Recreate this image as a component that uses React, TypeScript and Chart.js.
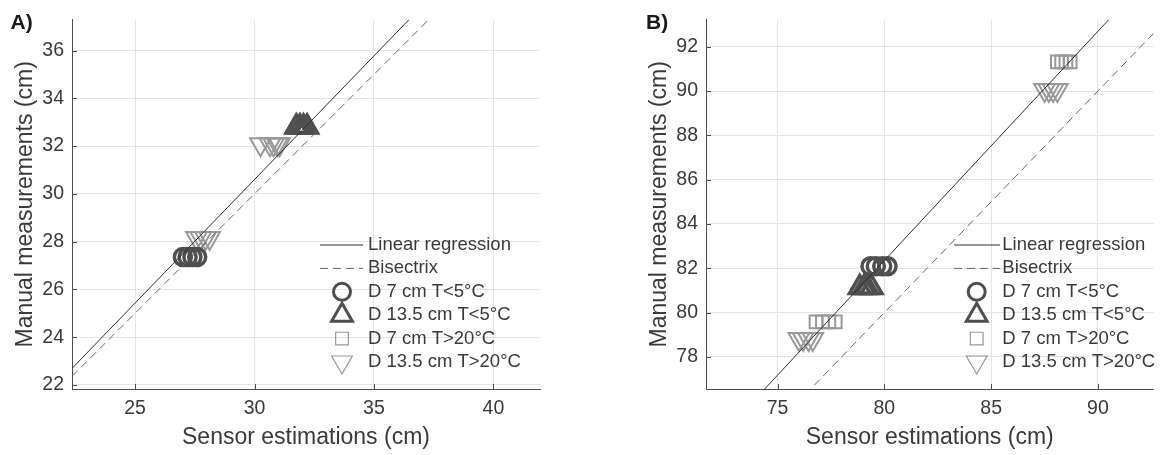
import React, { useEffect, useRef } from "react";
import { Chart, registerables } from "chart.js";
import { drawPoint } from "chart.js/helpers";

Chart.register(...registerables);

// ---------------- data ----------------
const SERIES_LABELS = [
  "Linear regression",
  "Bisectrix",
  "D 7 cm T<5°C",
  "D 13.5 cm T<5°C",
  "D 7 cm T>20°C",
  "D 13.5 cm T>20°C",
];
const X_TITLE = "Sensor estimations (cm)";
const Y_TITLE = "Manual measurements (cm)";

// fitted regression line y = a*x + b (shared by both panels)
const REG_SLOPE = 1.035;
const REG_INTERCEPT = -0.45;

// Panel A
const A_X_RANGE = [22.36, 41.95];
const A_Y_RANGE = [21.83, 37.29];
const A_X_TICKS = [25, 30, 35, 40];
const A_Y_TICKS = [22, 24, 26, 28, 30, 32, 34, 36];
const A_D7_COLD_X = [27.0, 27.2, 27.4, 27.6];
const A_D7_COLD_Y = [27.36, 27.36, 27.36, 27.36];
const A_D135_COLD_X = [31.75, 31.9, 32.05, 32.2];
const A_D135_COLD_Y = [32.8, 32.8, 32.8, 32.8];
const A_D7_WARM_X: number[] = [];
const A_D7_WARM_Y: number[] = [];
const A_D135_WARM_X = [27.57, 27.75, 27.95, 28.12, 30.25, 30.65, 30.8, 30.95, 31.05];
const A_D135_WARM_Y = [28.15, 28.15, 28.15, 28.15, 32.08, 32.08, 32.08, 32.08, 32.08];

// Panel B
const B_X_RANGE = [71.65, 92.6];
const B_Y_RANGE = [76.55, 93.22];
const B_X_TICKS = [75, 80, 85, 90];
const B_Y_TICKS = [78, 80, 82, 84, 86, 88, 90, 92];
const B_D7_COLD_X = [79.35, 79.6, 79.9, 80.15];
const B_D7_COLD_Y = [82.09, 82.09, 82.09, 82.09];
const B_D135_COLD_X = [78.85, 79.05, 79.2, 79.4];
const B_D135_COLD_Y = [81.13, 81.13, 81.13, 81.13];
const B_D7_WARM_X = [76.8, 77.1, 77.4, 77.7, 88.1, 88.3, 88.5, 88.7];
const B_D7_WARM_Y = [79.58, 79.58, 79.58, 79.58, 91.32, 91.32, 91.32, 91.32];
const B_D135_WARM_X = [76.0, 76.2, 76.45, 76.65, 87.5, 87.7, 87.9, 88.1];
const B_D135_WARM_Y = [78.81, 78.81, 78.81, 78.81, 90.05, 90.05, 90.05, 90.05];

// ---------------- styles ----------------
const FONT = '"Liberation Sans", Arial, Helvetica, sans-serif';
const TEXT = "#3a3a3a";
const AXIS = "#4d4d4d";
const GRID = "#e4e4e4";
const DARK = "#4f4f4f";
const LIGHT = "#999999";
const REG_COLOR = "#2e2e2e";
const BIS_COLOR = "#666666";
const CANVAS_H = 455;
const X_AXIS_H = 66;
const PLOT_TOP = 18;
const LEGEND_ROWS_Y = [245, 268.4, 291.8, 315.2, 338.6, 362];

const MARKERS = [
  { pointStyle: "circle", radius: 8.5, color: DARK, width: 3.5, legendWidth: 3, rotation: 0 },
  { pointStyle: "triangle", radius: 12, color: DARK, width: 3.5, legendWidth: 3, rotation: 0 },
  { pointStyle: "rect", radius: 9, color: LIGHT, width: 2, legendWidth: 1.2, rotation: 0 },
  { pointStyle: "triangle", radius: 12, color: LIGHT, width: 2, legendWidth: 1.2, rotation: 180 },
];

type PanelSpec = {
  left: number;
  width: number;
  xr: number[];
  yr: number[];
  xTicks: number[];
  yTicks: number[];
  series: { x: number[]; y: number[] }[];
  yAxisW: number;
  padRight: number;
  yTitlePad: number;
  legend: { lineX0: number; lineX1: number; markerX: number; textX: number };
  tag: string;
  tagX: number;
};

const PANEL_A: PanelSpec = {
  left: 0,
  width: 575,
  xr: A_X_RANGE,
  yr: A_Y_RANGE,
  xTicks: A_X_TICKS,
  yTicks: A_Y_TICKS,
  series: [
    { x: A_D7_COLD_X, y: A_D7_COLD_Y },
    { x: A_D135_COLD_X, y: A_D135_COLD_Y },
    { x: A_D7_WARM_X, y: A_D7_WARM_Y },
    { x: A_D135_WARM_X, y: A_D135_WARM_Y },
  ],
  yAxisW: 72,
  padRight: 35,
  yTitlePad: 11.5,
  legend: { lineX0: 320, lineX1: 363, markerX: 342, textX: 368 },
  tag: "A)",
  tagX: 10.5,
};

const PANEL_B: PanelSpec = {
  left: 580,
  width: 589,
  xr: B_X_RANGE,
  yr: B_Y_RANGE,
  xTicks: B_X_TICKS,
  yTicks: B_Y_TICKS,
  series: [
    { x: B_D7_COLD_X, y: B_D7_COLD_Y },
    { x: B_D135_COLD_X, y: B_D135_COLD_Y },
    { x: B_D7_WARM_X, y: B_D7_WARM_Y },
    { x: B_D135_WARM_X, y: B_D135_WARM_Y },
  ],
  yAxisW: 126,
  padRight: 1,
  yTitlePad: 65.8,
  legend: { lineX0: 374, lineX1: 420, markerX: 396.7, textX: 422.3 },
  tag: "B)",
  tagX: 66,
};

function makePlugins(p: PanelSpec) {
  const legendPlugin = {
    id: "customLegend",
    afterDatasetsDraw(chart: any) {
      const ctx = chart.ctx as CanvasRenderingContext2D;
      const L = p.legend;
      ctx.save();
      chart.data.datasets.forEach((ds: any, i: number) => {
        const y = LEGEND_ROWS_Y[i];
        if (ds.showLine) {
          ctx.strokeStyle = ds.borderColor;
          ctx.lineWidth = ds.borderWidth;
          ctx.setLineDash(ds.borderDash || []);
          ctx.beginPath();
          ctx.moveTo(L.lineX0, y);
          ctx.lineTo(L.lineX1, y);
          ctx.stroke();
          ctx.setLineDash([]);
        } else {
          const m = MARKERS[i - 2];
          ctx.strokeStyle = ds.pointBorderColor;
          ctx.fillStyle = "rgba(0,0,0,0)";
          ctx.lineWidth = m.legendWidth;
          ctx.lineJoin = "miter";
          drawPoint(
            ctx,
            {
              pointStyle: ds.pointStyle,
              rotation: ds.pointRotation || 0,
              radius: ds.pointRadius,
              borderWidth: m.legendWidth,
            } as any,
            L.markerX,
            y
          );
        }
        ctx.fillStyle = TEXT;
        ctx.font = `18.5px ${FONT}`;
        ctx.textAlign = "left";
        ctx.textBaseline = "middle";
        ctx.fillText(ds.label, L.textX, y);
      });
      ctx.restore();
    },
  };
  const decoPlugin = {
    id: "deco",
    afterDraw(chart: any) {
      const ctx = chart.ctx as CanvasRenderingContext2D;
      const { left, bottom } = chart.chartArea;
      const xs = chart.scales.x;
      const ys = chart.scales.y;
      ctx.save();
      ctx.strokeStyle = AXIS;
      ctx.lineWidth = 1;
      ctx.beginPath();
      p.xTicks.forEach((v) => {
        const px = Math.round(xs.getPixelForValue(v)) + 0.5;
        ctx.moveTo(px, bottom);
        ctx.lineTo(px, bottom - 5);
      });
      p.yTicks.forEach((v) => {
        const py = Math.round(ys.getPixelForValue(v)) + 0.5;
        ctx.moveTo(left, py);
        ctx.lineTo(left + 5, py);
      });
      ctx.stroke();
      ctx.fillStyle = "#1a1a1a";
      ctx.font = `bold 21px ${FONT}`;
      ctx.textAlign = "left";
      ctx.textBaseline = "alphabetic";
      ctx.fillText(p.tag, p.tagX, 28.5);
      ctx.restore();
    },
  };
  return [legendPlugin, decoPlugin];
}

function makeConfig(p: PanelSpec): any {
  const regPts = [p.xr[0], p.xr[1]].map((x) => ({ x, y: REG_SLOPE * x + REG_INTERCEPT }));
  const bisPts = [p.xr[0], p.xr[1]].map((x) => ({ x, y: x }));
  const markerSets = p.series.map((s, i) => {
    const m = MARKERS[i];
    return {
      label: SERIES_LABELS[i + 2],
      data: s.x.map((x, k) => ({ x, y: s.y[k] })),
      showLine: false,
      borderColor: m.color,
      backgroundColor: "rgba(0,0,0,0)",
      pointStyle: m.pointStyle,
      pointRadius: m.radius,
      pointHoverRadius: m.radius,
      pointRotation: m.rotation,
      pointBorderColor: m.color,
      pointBorderWidth: m.width,
      pointBackgroundColor: "rgba(0,0,0,0)",
    };
  });
  return {
    type: "scatter",
    data: {
      datasets: [
        {
          label: SERIES_LABELS[0],
          data: regPts,
          showLine: true,
          borderColor: REG_COLOR,
          backgroundColor: REG_COLOR,
          borderWidth: 1,
          pointRadius: 0,
          fill: false,
        },
        {
          label: SERIES_LABELS[1],
          data: bisPts,
          showLine: true,
          borderColor: BIS_COLOR,
          backgroundColor: BIS_COLOR,
          borderWidth: 1,
          borderDash: [8, 5],
          pointRadius: 0,
          fill: false,
        },
        ...markerSets,
      ],
    },
    options: {
      animation: false,
      responsive: false,
      events: [],
      layout: { padding: { left: 0, right: p.padRight, top: PLOT_TOP, bottom: 0 } },
      plugins: {
        legend: { display: false },
        tooltip: { enabled: false },
        colors: { enabled: false },
      },
      scales: {
        x: {
          type: "linear",
          position: "bottom",
          min: p.xr[0],
          max: p.xr[1],
          afterBuildTicks: (s: any) => {
            s.ticks = p.xTicks.map((v) => ({ value: v }));
          },
          afterFit: (s: any) => {
            s.height = X_AXIS_H;
          },
          grid: { color: GRID, drawTicks: false, lineWidth: 1 },
          border: { display: true, color: AXIS, width: 1 },
          ticks: { padding: 8, color: TEXT, font: { family: FONT, size: 19.5 } },
          title: {
            display: true,
            text: X_TITLE,
            color: TEXT,
            font: { family: FONT, size: 23 },
            padding: { top: 0, bottom: 4 },
          },
        },
        y: {
          type: "linear",
          position: "left",
          min: p.yr[0],
          max: p.yr[1],
          afterBuildTicks: (s: any) => {
            s.ticks = p.yTicks.map((v) => ({ value: v }));
          },
          afterFit: (s: any) => {
            s.width = p.yAxisW;
          },
          grid: { color: GRID, drawTicks: false, lineWidth: 1 },
          border: { display: true, color: AXIS, width: 1 },
          ticks: { padding: 8, color: TEXT, font: { family: FONT, size: 19.5 } },
          title: {
            display: true,
            text: Y_TITLE,
            color: TEXT,
            font: { family: FONT, size: 23 },
            padding: { top: p.yTitlePad, bottom: 0 },
          },
        },
      },
    },
    plugins: makePlugins(p),
  };
}

function Panel({ spec }: { spec: PanelSpec }) {
  const ref = useRef<HTMLCanvasElement>(null);
  useEffect(() => {
    const chart = new Chart(ref.current as HTMLCanvasElement, makeConfig(spec));
    return () => chart.destroy();
  }, [spec]);
  return (
    <canvas
      ref={ref}
      width={spec.width}
      height={CANVAS_H}
      style={{ position: "absolute", left: spec.left, top: 0, width: spec.width, height: CANVAS_H }}
    />
  );
}

export default function App() {
  return (
    <div
      style={{
        position: "fixed",
        left: 0,
        top: 0,
        width: 1169,
        height: CANVAS_H,
        background: "#ffffff",
        overflow: "hidden",
      }}
    >
      <Panel spec={PANEL_A} />
      <Panel spec={PANEL_B} />
    </div>
  );
}
